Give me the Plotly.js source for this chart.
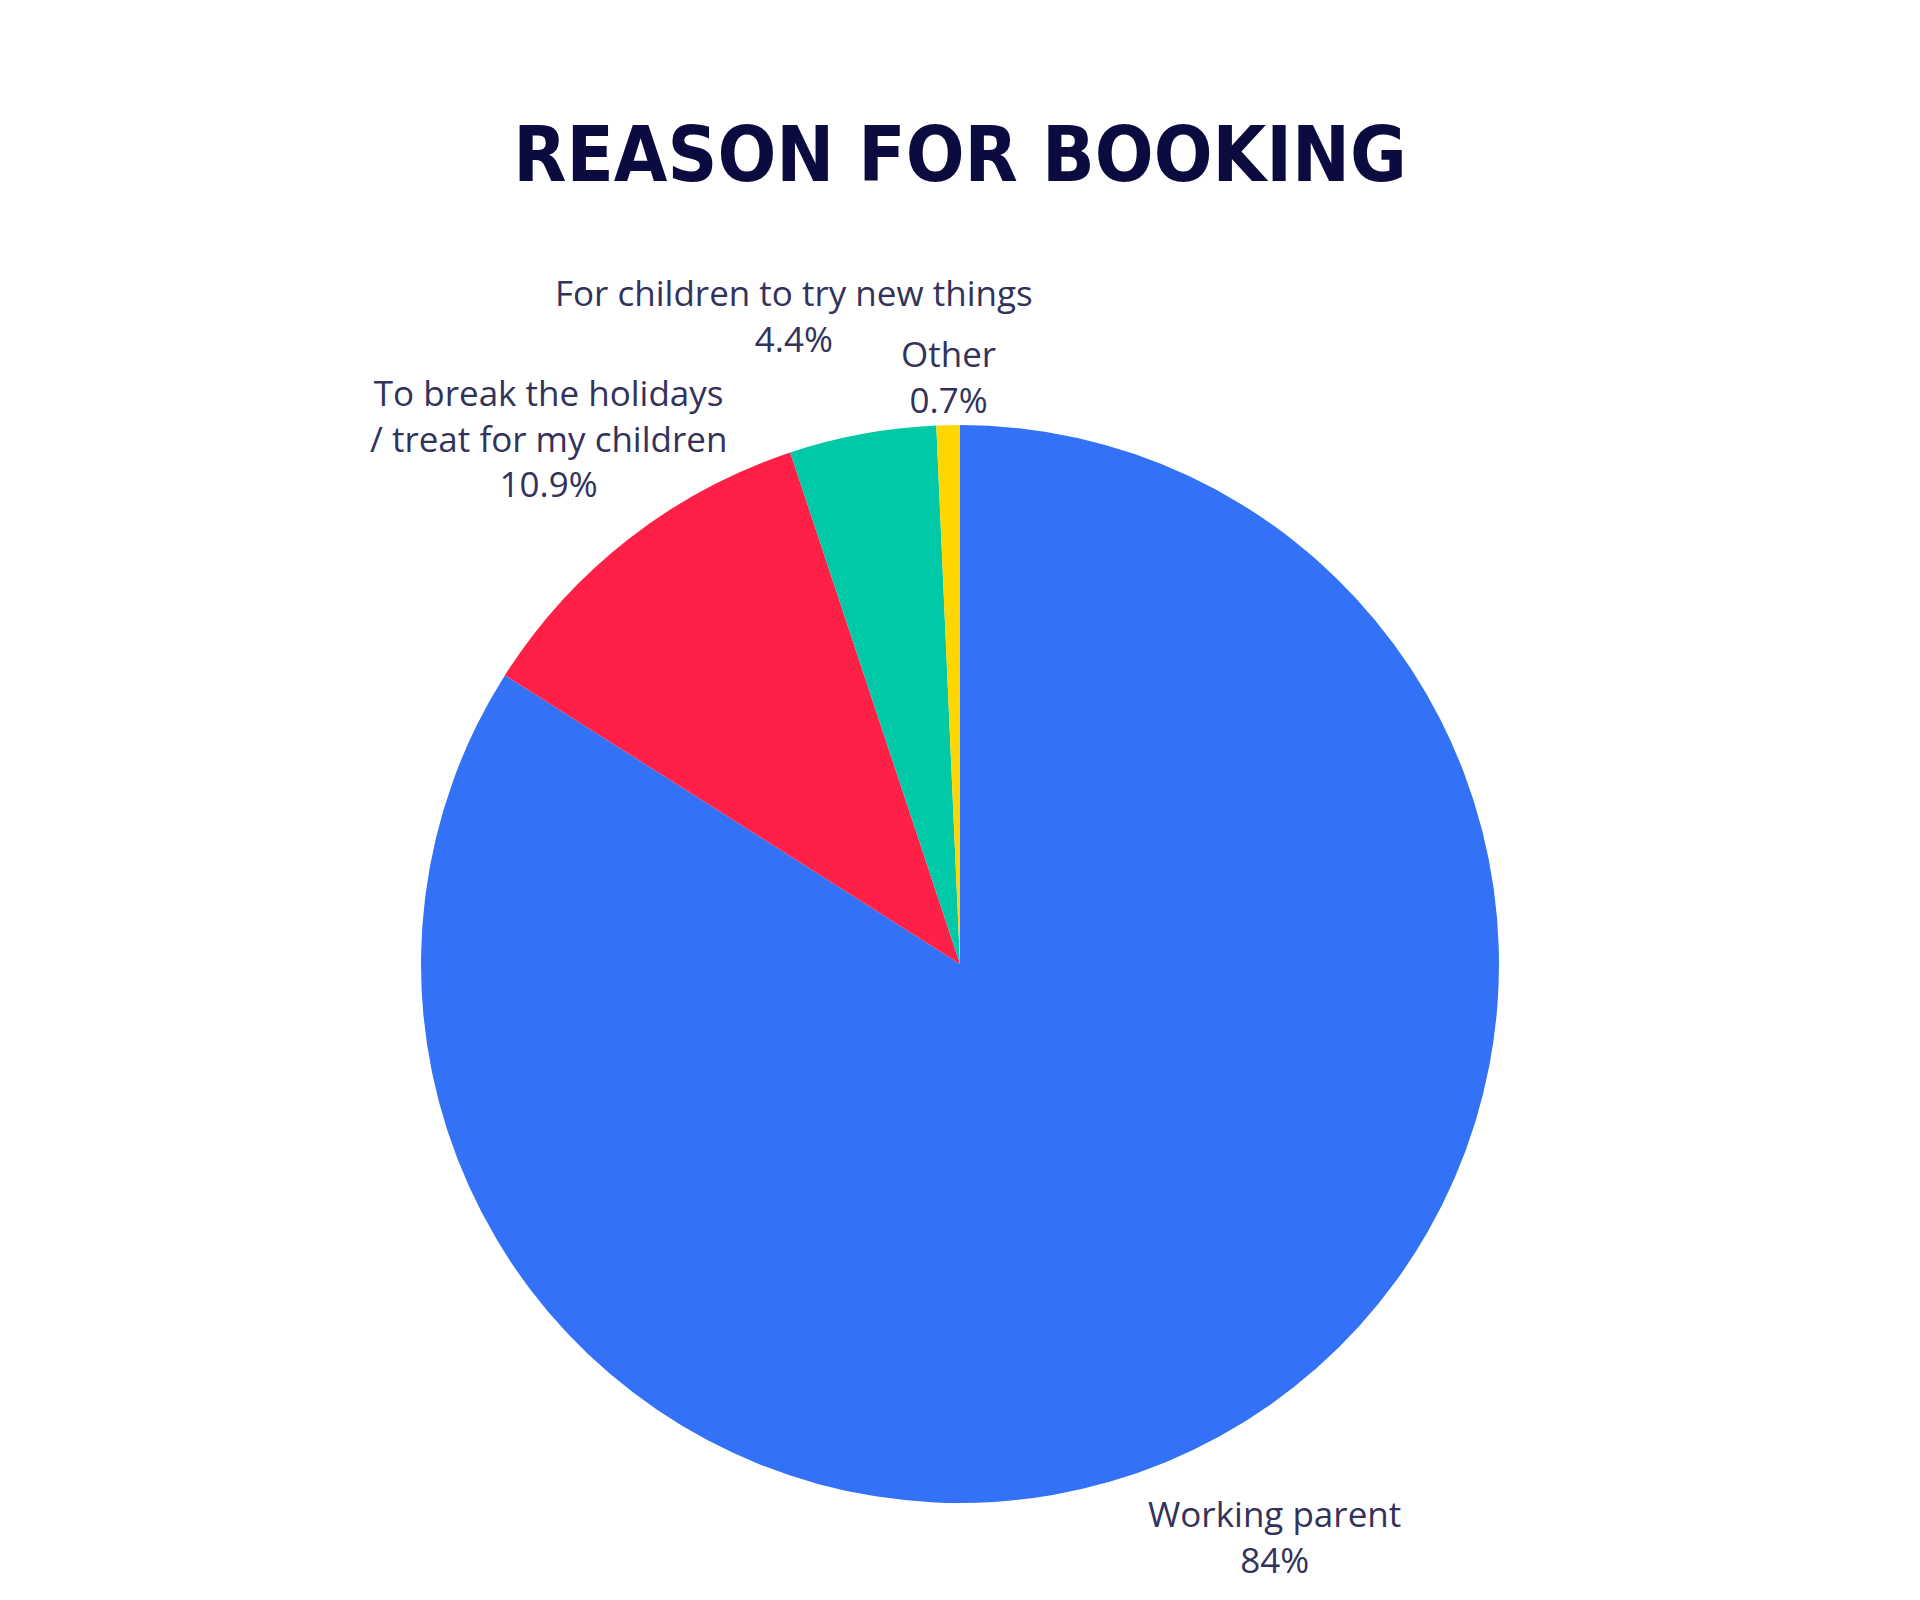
<!DOCTYPE html>
<html>
<head>
<meta charset="utf-8">
<script src="https://cdn.plot.ly/plotly-3.0.1.min.js"></script>
<style>html,body{margin:0;padding:0;background:#fff;}#chart{width:1920px;height:1600px;}</style>
</head>
<body>
<div id="chart"></div>
<script>
// ---- data ----
const chartTitle = "REASON FOR BOOKING";
const categories = [
  "Working parent",
  "To break the holidays<br>/ treat for my children",
  "For children to try new things",
  "Other"
];
const shares = [84, 10.9, 4.4, 0.7];
const sliceColors = ["#3371F7", "#FF1F47", "#00C9A7", "#FFD600"];

// ---- layout constants (label anchor points in page pixels) ----
const W = 1920, H = 1600;
const M = { l: 0, r: 0, t: 425, b: 97 };
const labelCenters = [
  [1274, 1536],
  [548, 438],
  [794, 316],
  [948, 377]
];

function pct(v, total) {
  const p = v / total * 100;
  return (Math.round(p * 10) / 10).toString() + "%";
}
const total = shares.reduce((a, b) => a + b, 0);

const annotations = categories.map((c, i) => ({
  text: c + "<br>" + pct(shares[i], total),
  xref: "paper", yref: "paper",
  x: (labelCenters[i][0] - M.l) / (W - M.l - M.r),
  y: (H - M.b - labelCenters[i][1]) / (H - M.t - M.b),
  xanchor: "center", yanchor: "middle",
  align: "center",
  showarrow: false,
  font: { family: "'Open Sans', sans-serif", size: 35, color: "#32325a" }
}));

const data = [{
  type: "pie",
  labels: categories,
  values: shares,
  sort: false,
  direction: "clockwise",
  rotation: 0,
  marker: { colors: sliceColors, line: { width: 0 } },
  textinfo: "none",
  automargin: false,
  showlegend: false,
  hoverinfo: "label+percent"
}];

const layout = {
  width: W,
  height: H,
  paper_bgcolor: "#ffffff",
  margin: M,
  title: {
    text: "<b>" + chartTitle + "</b>",
    x: 0.5,
    xanchor: "center",
    y: 1 - 154 / H,
    yanchor: "middle",
    font: { family: "'DejaVu Sans Condensed', 'DejaVu Sans', sans-serif", size: 77, color: "#0b0b3f" }
  },
  annotations: annotations,
  showlegend: false
};

Plotly.newPlot("chart", data, layout, { displayModeBar: false, staticPlot: true });
</script>
</body>
</html>
